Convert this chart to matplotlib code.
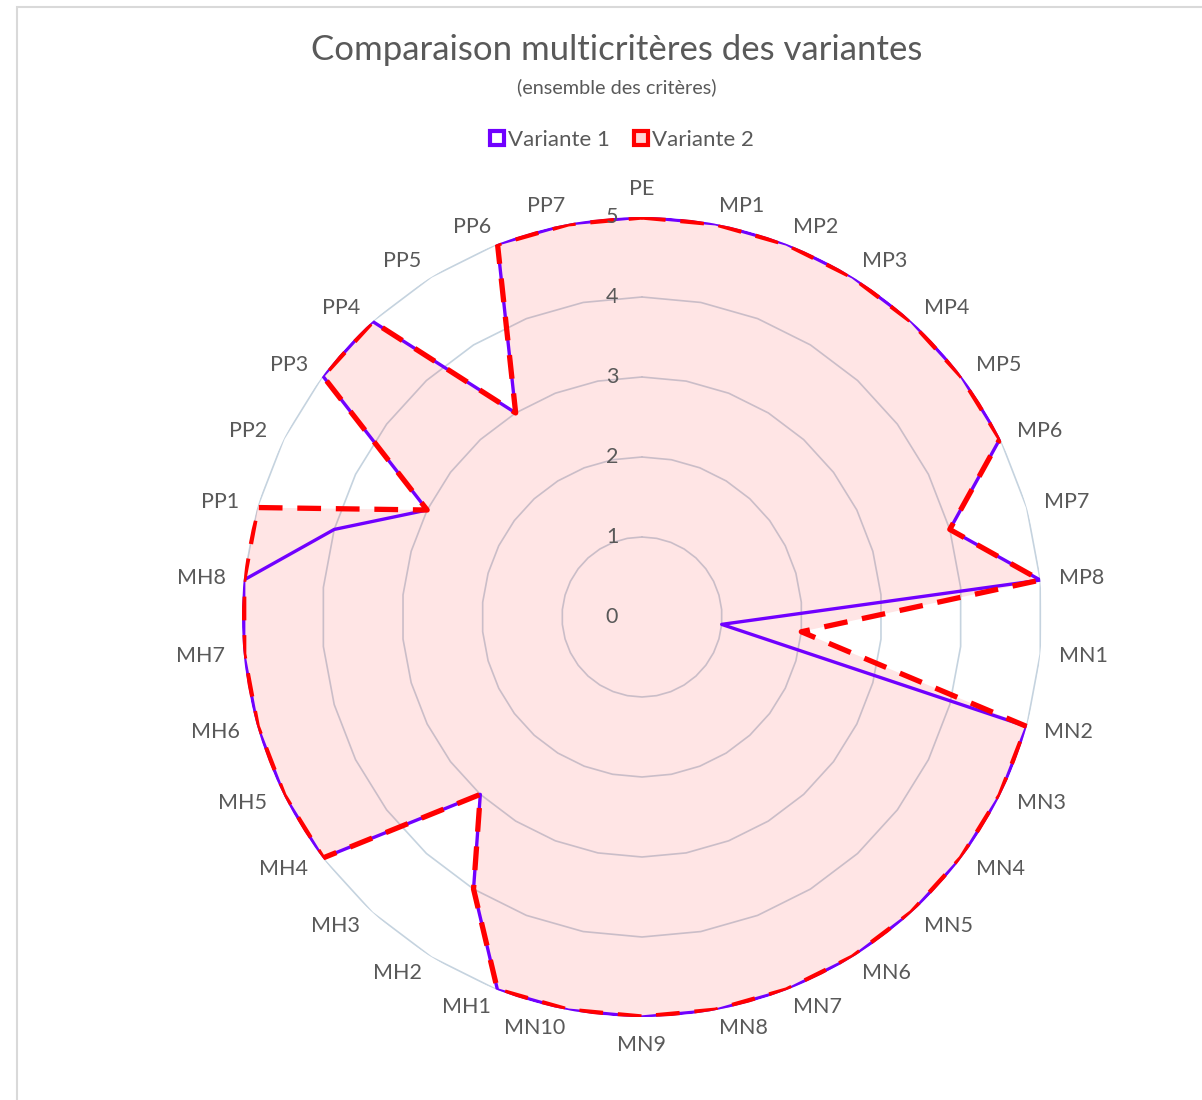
import numpy as np
import matplotlib.pyplot as plt
from matplotlib.lines import Line2D
from matplotlib.patches import Rectangle
from matplotlib.transforms import ScaledTranslation

plt.rcParams['font.family'] = ['Lato', 'DejaVu Sans']

categories = ['PE',
              'MP1', 'MP2', 'MP3', 'MP4', 'MP5', 'MP6', 'MP7', 'MP8',
              'MN1', 'MN2', 'MN3', 'MN4', 'MN5', 'MN6', 'MN7', 'MN8', 'MN9', 'MN10',
              'MH1', 'MH2', 'MH3', 'MH4', 'MH5', 'MH6', 'MH7', 'MH8',
              'PP1', 'PP2', 'PP3', 'PP4', 'PP5', 'PP6', 'PP7']
variante1 = [5,
             5, 5, 5, 5, 5, 5, 4, 5,
             1, 5, 5, 5, 5, 5, 5, 5, 5, 5,
             5, 4, 3, 5, 5, 5, 5, 5,
             4, 3, 5, 5, 3, 5, 5]
variante2 = [5,
             5, 5, 5, 5, 5, 5, 4, 5,
             2, 5, 5, 5, 5, 5, 5, 5, 5, 5,
             5, 4, 3, 5, 5, 5, 5, 5,
             5, 3, 5, 5, 3, 5, 5]
ring_levels = [0, 1, 2, 3, 4, 5]

text_col = '#595959'
purple = '#7000ff'
red = '#ff0000'
grid_col = '#c5d3df'

n = len(categories)
theta = np.arange(n) * 2 * np.pi / n
theta_c = np.append(theta, theta[0])

fig = plt.figure(figsize=(12.02, 11), dpi=100)
ax = fig.add_axes([242 / 1202, 83 / 1100, 800 / 1202, 800 / 1100], projection='polar')
ax.set_theta_zero_location('N')
ax.set_theta_direction(-1)
ax.set_ylim(0, 5)
ax.grid(False)
ax.spines['polar'].set_visible(False)
ax.set_xticks([])
ax.set_yticks([])
ax.patch.set_alpha(0)

# polygon grid
for r in ring_levels[1:]:
    ax.plot(theta_c, [r] * (n + 1), color=grid_col, lw=1.2, zorder=1)

# series
v1 = np.append(variante1, variante1[0])
v2 = np.append(variante2, variante2[0])
ax.fill(theta_c, v2, color=red, alpha=0.1, lw=0, zorder=2)
ax.plot(theta_c, v1, color=purple, lw=2.4, zorder=3)
ax.plot(theta_c, v2, color=red, lw=3.8, dashes=(4.5, 2.8), zorder=4)

# category labels (anchored like Excel: left/right aligned at the ring edge)
for t, lab in zip(theta, categories):
    s, c = np.sin(t), np.cos(t)
    ha = 'left' if s > 0.01 else ('right' if s < -0.01 else 'center')
    if abs(s) <= 0.01:
        va = 'bottom' if c > 0 else 'top'
    else:
        va = 'center'
    ax.text(t, 5.23, lab, ha=ha, va=va, fontsize=15.5, color=text_col)

# ring labels
shift = ax.transData + ScaledTranslation(-30 / 100, 0, fig.dpi_scale_trans)
for r in ring_levels:
    ax.text(0, r, str(r), ha='center', va='center', fontsize=15.5, color=text_col,
            transform=shift, zorder=5)

fig.text(617 / 1202, 1 - 50 / 1100, 'Comparaison multicritères des variantes',
         ha='center', va='center', fontsize=25, color=text_col)
fig.text(617 / 1202, 1 - 87 / 1100, '(ensemble des critères)',
         ha='center', va='center', fontsize=14.3, color=text_col)

handles = [
    Line2D([], [], ls='none', marker='s', markersize=10, markerfacecolor='white',
           markeredgecolor=purple, markeredgewidth=3),
    Line2D([], [], ls='none', marker='s', markersize=10, markerfacecolor='#ffd6d6',
           markeredgecolor=red, markeredgewidth=3),
]
fig.legend(handles, ['Variante 1', 'Variante 2'], loc='center',
           bbox_to_anchor=(621 / 1202, 1 - 140 / 1100), ncol=2, frameon=False,
           fontsize=16, handletextpad=0.1, columnspacing=1.0, handlelength=0.8,
           labelcolor=text_col)

fig.patches.append(Rectangle((17 / 1202, -0.1), 1.2, 1 - 7 / 1100 + 0.1,
                             transform=fig.transFigure, fill=False,
                             edgecolor='#d9d9d9', lw=1.5))

fig.savefig('out.png', dpi=100)
